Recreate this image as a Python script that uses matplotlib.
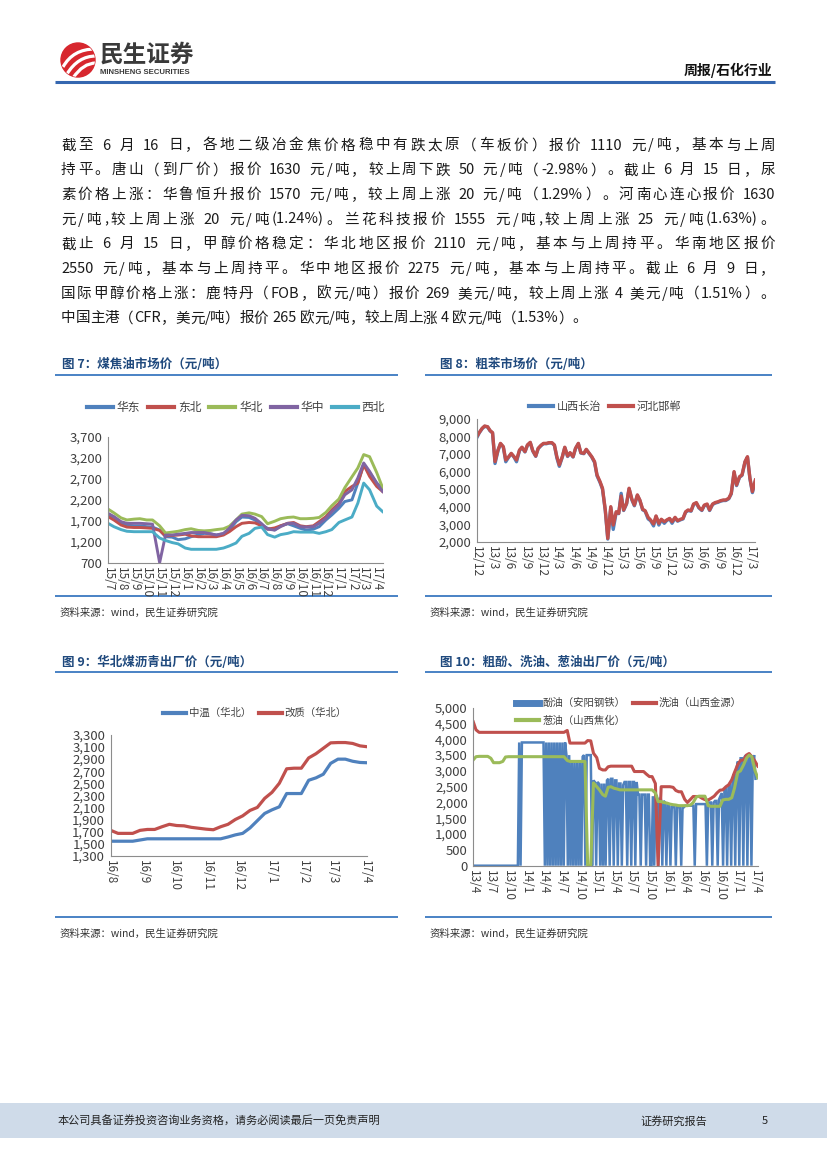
import re
import pandas as pd
import matplotlib
matplotlib.use('Agg')
import matplotlib.pyplot as plt
import matplotlib.dates as mdates
from matplotlib.lines import Line2D
from matplotlib.patches import Rectangle, Circle, PathPatch
from matplotlib.path import Path
from matplotlib.font_manager import FontProperties

plt.rcParams['font.family'] = ['Noto Sans CJK SC', 'DejaVu Sans']
plt.rcParams['axes.unicode_minus'] = False

# ---------------- data ----------------
body_lines = [
    '截至 6 月 16 日，各地二级冶金焦价格稳中有跌太原（车板价）报价 1110 元/吨，基本与上周',
    '持平。唐山（到厂价）报价 1630 元/吨，较上周下跌 50 元/吨（-2.98%）。截止 6 月 15 日，尿',
    '素价格上涨：华鲁恒升报价 1570 元/吨，较上周上涨 20 元/吨（1.29%）。河南心连心报价 1630',
    '元/吨,较上周上涨 20 元/吨(1.24%)。兰花科技报价 1555 元/吨,较上周上涨 25 元/吨(1.63%)。',
    '截止 6 月 15 日，甲醇价格稳定：华北地区报价 2110 元/吨，基本与上周持平。华南地区报价',
    '2550 元/吨，基本与上周持平。华中地区报价 2275 元/吨，基本与上周持平。截止 6 月 9 日，',
    '国际甲醇价格上涨：鹿特丹（FOB，欧元/吨）报价 269 美元/吨，较上周上涨 4 美元/吨（1.51%）。',
    '中国主港（CFR，美元/吨）报价 265 欧元/吨，较上周上涨 4 欧元/吨（1.53%）。',
]

# fig 7: coal tar, semi-monthly from 2015-07
tar_names = ['华东', '东北', '华北', '华中', '西北']
tar_huadong = [1840, 1790, 1660, 1600, 1580, 1580, 1560, 1550, 1480, 1320, 1310, 1250, 1270, 1320, 1360,
               1400, 1390, 1360, 1390, 1480, 1680, 1790, 1780, 1720, 1600, 1520, 1480, 1580, 1630, 1580,
               1520, 1480, 1500, 1560, 1720, 1840, 2000, 2160, 2200, 2600, 3040, 2850, 2600, 2480]
tar_dongbei = [1800, 1720, 1600, 1550, 1540, 1540, 1530, 1520, 1470, 1340, 1350, 1360, 1380, 1340, 1320,
               1320, 1320, 1320, 1360, 1440, 1560, 1640, 1660, 1650, 1580, 1500, 1530, 1580, 1640, 1660,
               1580, 1560, 1580, 1680, 1800, 1960, 2120, 2400, 2520, 2600, 3040, 2760, 2520, 2400]
tar_huabei = [1980, 1890, 1770, 1720, 1740, 1750, 1720, 1720, 1580, 1410, 1430, 1450, 1490, 1510, 1470,
              1460, 1470, 1490, 1510, 1570, 1720, 1860, 1890, 1860, 1800, 1630, 1690, 1750, 1780, 1790,
              1750, 1750, 1760, 1780, 1900, 2060, 2220, 2490, 2750, 2960, 3280, 3230, 2850, 2490]
tar_huazhong = [1880, 1800, 1680, 1640, 1640, 1640, 1630, 1620, 700, 1360, 1360, 1380, 1400, 1420, 1420,
                1420, 1390, 1360, 1400, 1520, 1720, 1830, 1820, 1760, 1630, 1500, 1480, 1560, 1640, 1640,
                1560, 1550, 1560, 1640, 1760, 1920, 2080, 2320, 2440, 2720, 3080, 2880, 2600, 2400]
tar_xibei = [1640, 1560, 1490, 1450, 1440, 1440, 1440, 1440, 1290, 1230, 1180, 1150, 1050, 1020, 1020,
             1020, 1020, 1020, 1050, 1100, 1170, 1330, 1400, 1520, 1550, 1370, 1310, 1370, 1400, 1440,
             1430, 1430, 1430, 1400, 1440, 1490, 1660, 1720, 1790, 2120, 2600, 2440, 2050, 1920]
tar_ticks = ['15/7', '15/8', '15/9', '15/10', '15/11', '15/12', '16/1', '16/2', '16/3', '16/4', '16/5',
             '16/6', '16/7', '16/8', '16/9', '16/10', '16/11', '16/12', '17/1', '17/2', '17/3', '17/4']
tar_yticks = [700, 1200, 1700, 2200, 2700, 3200, 3700]

# fig 8: crude benzene, semi-monthly from 2012-12
benz_names = ['山西长治', '河北邯郸']
benz_changzhi = [7920, 8200, 8450, 8580, 8540, 8320, 8200, 6460, 7200, 7580,
                 7400, 6560, 6830, 7020, 6820, 6560, 7200, 7370, 7120, 7500,
                 7650, 7180, 6870, 7310, 7480, 7590, 7590, 7630, 7630, 7500,
                 6780, 6300, 6830, 7370, 6860, 7060, 6830, 7310, 7590, 7060,
                 7020, 7250, 7020, 6830, 6520, 5760, 5380, 5000, 3760, 2150,
                 3950, 2700, 3680, 3600, 4760, 3780, 4160, 5020, 4380, 4050,
                 4640, 4350, 3820, 3740, 3300, 3200, 2900, 3440, 2950, 3250,
                 3050, 3210, 3300, 3050, 3360, 3170, 3250, 3300, 3680, 3780,
                 3740, 4120, 4200, 3930, 3780, 4060, 4100, 3780, 4120, 4200,
                 4250, 4310, 4350, 4350, 4450, 4730, 5950, 5200, 5680, 5780,
                 6540, 6820, 5580, 4800, 5480]
benz_handan = [7990, 8220, 8470, 8600, 8560, 8340, 8220, 6570, 7230, 7610,
               7420, 6660, 6850, 7040, 6850, 6660, 7230, 7390, 7140, 7520,
               7670, 7200, 6890, 7330, 7500, 7610, 7610, 7650, 7650, 7520,
               6850, 6380, 6850, 7390, 6890, 7080, 6850, 7330, 7610, 7080,
               7040, 7270, 7040, 6850, 6570, 5810, 5430, 5050, 3810, 2190,
               4000, 2950, 3710, 3620, 4610, 3810, 4190, 5050, 4420, 4090,
               4670, 4380, 3850, 3770, 3390, 3240, 3010, 3470, 3050, 3280,
               3140, 3240, 3330, 3140, 3390, 3200, 3280, 3330, 3710, 3810,
               3770, 4150, 4230, 3960, 3810, 4090, 4150, 3810, 4150, 4230,
               4280, 4340, 4380, 4380, 4480, 4760, 6000, 5240, 5710, 5810,
               6570, 6850, 5620, 4860, 5520]
benz_ticks = ['12/12', '13/3', '13/6', '13/9', '13/12', '14/3', '14/6', '14/9', '14/12',
              '15/3', '15/6', '15/9', '15/12', '16/3', '16/6', '16/9', '16/12', '17/3']
benz_yticks = [2000, 3000, 4000, 5000, 6000, 7000, 8000, 9000]

# fig 9: pitch, weekly from 2016-08-01
pitch_names = ['中温（华北）', '改质（华北）']
pitch_zhongwen = [1540, 1540, 1540, 1540, 1560, 1580, 1580, 1580, 1580, 1580,
                  1580, 1580, 1580, 1580, 1580, 1580, 1610, 1645, 1670, 1760,
                  1880, 2000, 2060, 2110, 2330, 2330, 2330, 2550, 2590, 2650,
                  2830, 2900, 2900, 2865, 2845, 2840]
pitch_gaizhi = [1720, 1670, 1670, 1670, 1720, 1735, 1735, 1780, 1820, 1800,
                1795, 1770, 1755, 1740, 1730, 1780, 1820, 1900, 1960, 2050,
                2100, 2250, 2350, 2500, 2740, 2750, 2750, 2920, 2990, 3080,
                3170, 3175, 3175, 3160, 3120, 3105]
pitch_ticks = ['16/8', '16/9', '16/10', '16/11', '16/12', '17/1', '17/2', '17/3', '17/4']
pitch_yticks = [1300, 1500, 1700, 1900, 2100, 2300, 2500, 2700, 2900, 3100, 3300]

# fig 10: phenol oil weekly from 2013-04-01, wash oil / anthracene oil semi-monthly
oil_names = ['酚油（安阳钢铁）', '洗油（山西金源）', '葱油（山西焦化）']
oil_phenol = [0, 0, 0, 0, 0, 0, 0, 0, 0, 0, 0, 0, 0, 0, 0, 0, 0,
              0, 0, 0, 0, 0, 0, 0, 0, 0, 0, 0, 0, 0, 0, 0, 0, 0,
              3900, 0, 3900,
              3900, 3900, 3900, 3900, 3900, 3900, 3900, 3900, 3900, 3900, 3900, 3900, 3900, 3900, 3900, 3900,
              0, 3900, 0, 3900, 0, 3900, 0, 3900, 0, 3900, 0, 3900, 0, 3900, 0, 3900,
              3500, 0, 3500, 0, 3300, 0, 3300, 0, 3300, 0, 3300, 0, 3450, 3500, 0, 3500, 3500, 3500, 3500, 0,
              2700, 2650, 0, 2650, 2600, 0, 2600, 0, 2600, 0,
              2700, 2750, 0, 2750, 2750, 0, 2700, 2700, 0, 2600,
              2600, 0, 2550, 2650, 2650, 0, 2650, 2650, 0, 2650,
              2650, 0, 2650, 2250, 2250, 0, 2250, 2250, 2250, 0,
              2250, 2250, 0, 0, 2200, 0, 2250, 2200, 0, 2150,
              2100, 0, 2050, 2000, 0, 1950, 1900, 0, 1850, 1850,
              1850, 0, 1850, 1850, 1850, 0, 1850, 1850, 1900, 1900,
              1900, 1900, 1900, 1900, 1900, 0, 1950, 1950, 1950, 1950,
              1950, 1950, 1950, 1950, 0, 2000, 2000, 2000, 0, 2000,
              2050, 2050, 0, 2100, 2200, 2300, 0, 2400, 2450, 0,
              2550, 2600, 0, 2700, 2900, 0, 3100, 3300, 0, 3400,
              3400, 0, 3450, 3500, 0, 3500, 3450, 0, 3300, 3500,
              2750]
oil_wash = [4550, 4300,
            4220, 4220, 4220, 4220, 4220, 4220, 4220, 4220, 4220, 4220, 4220, 4220, 4220, 4220, 4220,
            4220, 4220, 4220, 4220, 4220, 4220, 4220, 4220, 4220, 4220, 4220, 4220, 4220, 4220, 4220,
            4280, 3880, 3880, 3880, 3880, 3880, 3880, 3960, 3950, 3560, 3420, 3080, 3030, 3030, 3130,
            3150, 3150, 3150, 3150, 3150, 3150, 3150, 3150, 2980, 2980, 2980, 2980, 2900, 2820, 2820,
            2600, 0, 2500, 2500, 2500, 2500, 2480, 2380, 2340, 2340, 2100, 2000, 2100, 2190, 2190, 2190,
            2130, 2090, 2080, 2130, 2200, 2300, 2390, 2400, 2500, 2560, 2720, 2950, 3200, 3330, 3350,
            3500, 3550, 3450, 3300, 3150]
oil_anthra = [3350, 3450, 3460, 3460, 3460, 3460, 3400, 3260, 3260, 3260, 3300, 3440,
              3450, 3450, 3450, 3450, 3450, 3450, 3450, 3450, 3450, 3450,
              3450, 3450, 3450, 3450, 3450, 3450, 3450, 3450, 3450, 3450,
              3330, 3300, 3300, 3300, 3300, 3300, 3300, 0, 0, 2620, 2500, 2400, 2250, 2200,
              2480, 2500, 2450, 2430, 2400, 2400, 2400, 2400, 2400, 2400, 2400, 2400, 2400, 2400,
              2400, 2400, 2300, 2030, 2030, 2000, 1980, 1950, 1930, 1920, 1900, 1900, 1900, 1900,
              1920, 2000, 2180, 2200, 2200, 2200, 1900, 1880, 1880, 1880, 1880, 2080, 2100, 2100,
              2150, 2450, 2950, 3000, 3200, 3400, 3500, 3450, 3000, 2780]
oil_ticks = ['13/4', '13/7', '13/10', '14/1', '14/4', '14/7', '14/10', '15/1', '15/4', '15/7',
             '15/10', '16/1', '16/4', '16/7', '16/10', '17/1', '17/4']
oil_yticks = [0, 500, 1000, 1500, 2000, 2500, 3000, 3500, 4000, 4500, 5000]

BLUE, RED, GREEN, PURPLE, CYAN = '#4f81bd', '#c0504d', '#9bbb59', '#8064a2', '#4bacc6'
TITLE_C = '#1f497d'
RULE_C = '#3a78c0'

# ---------------- page ----------------
W, H = 827, 1169
fig = plt.figure(figsize=(W / 100, H / 100), dpi=100)
bg = fig.add_axes([0, 0, 1, 1])
bg.set_xlim(0, W)
bg.set_ylim(H, 0)
bg.axis('off')

# header
logo = Circle((78, 60), 17, color='#d7272e')
bg.add_patch(logo)
for p0, p1, p2 in [((63, 67), (73, 49), (95, 49)), ((67, 74), (78, 56), (96, 56)), ((73, 78), (83, 63), (96, 63))]:
    sw = PathPatch(Path([p0, p1, p2], [Path.MOVETO, Path.CURVE3, Path.CURVE3]),
                   fc='none', ec='white', lw=2.3)
    bg.add_patch(sw)
    sw.set_clip_path(logo)
bg.text(100, 55, '民生证券', fontsize=17, weight='bold', color='#3a3a3a', va='center', ha='left')
bg.text(100, 72, 'MINSHENG SECURITIES', fontsize=5.6, weight='bold', color='#3a3a3a',
        va='center', ha='left', family=['Liberation Sans', 'DejaVu Sans'])
bg.text(772, 70, '周报/石化行业', fontsize=10, weight='bold', color='#111111', va='center', ha='right')
bg.plot([55, 775], [82, 82], color='#3567b0', lw=2.2, solid_capstyle='butt')

# body paragraph, justified line by line
body_fp = FontProperties(family=['Noto Sans CJK SC', 'DejaVu Sans'], size=10.5)
em = 10.5 * 100 / 72
renderer = fig.canvas.get_renderer()


def token_width(tok):
    if tok == ' ':
        return 0.25 * em
    if ord(tok[0]) > 0x2e80:
        return em
    return renderer.get_text_width_height_descent(tok, body_fp, ismath=False)[0]


for i, line in enumerate(body_lines):
    toks = re.findall(r'[\x21-\x7e]+| |.', line)
    widths = [token_width(t) for t in toks]
    if i < len(body_lines) - 1:
        gap = (775 - 61 - sum(widths)) / (len(toks) - 1)
    else:
        gap = 0.0
    x = 61
    yb = 149.5 + 24.7 * i
    for t, w in zip(toks, widths):
        if t != ' ':
            if ord(t[0]) > 0x2e80:
                bg.text(x + w / 2, yb, t, fontproperties=body_fp, ha='center', va='baseline', color='#1a1a1a')
            else:
                bg.text(x, yb, t, fontproperties=body_fp, ha='left', va='baseline', color='#1a1a1a')
        x += w + gap

# chart frames: titles, rules, sources
for x0, x1, tx, ty, title, y_bottom in [
        (55, 398, 62, 365, '图 7：煤焦油市场价（元/吨）', 596),
        (425, 772, 440, 365, '图 8：粗苯市场价（元/吨）', 596),
        (55, 398, 62, 662, '图 9：华北煤沥青出厂价（元/吨）', 917),
        (425, 772, 440, 662, '图 10：粗酚、洗油、葱油出厂价（元/吨）', 917)]:
    bg.text(tx, ty, title, fontsize=9, weight='bold', color=TITLE_C, va='center', ha='left')
    bg.plot([x0, x1], [ty + 9.5, ty + 9.5], color=RULE_C, lw=1.3, solid_capstyle='butt')
    bg.plot([x0, x1], [y_bottom, y_bottom], color=RULE_C, lw=1.3, solid_capstyle='butt')
    bg.text(x0 + 5, y_bottom + 16.5, '资料来源：wind，民生证券研究院', fontsize=7.5,
            color='#333333', va='center', ha='left')

# footer
bg.add_patch(Rectangle((0, 1103), W, 35, color='#cfdbe9', lw=0))
bg.text(58, 1121, '本公司具备证券投资咨询业务资格，请务必阅读最后一页免责声明', fontsize=8,
        color='#222222', va='center', ha='left')
bg.text(640, 1121, '证券研究报告', fontsize=8, color='#222222', va='center', ha='left')
bg.text(762, 1121, '5', fontsize=8, color='#222222', va='center', ha='left')


# ---------------- charts ----------------
def make_axes(x0, y0, x1, y1):
    return fig.add_axes([x0 / W, 1 - y1 / H, (x1 - x0) / W, (y1 - y0) / H])


def month_start(lab):
    yy, mm = lab.split('/')
    return pd.Timestamp(int('20' + yy), int(mm), 1)


def style(ax, yticks, xlabels, xlim):
    ax.set_ylim(yticks[0], yticks[-1])
    ax.set_yticks(yticks)
    ax.set_yticklabels([f'{v:,}' for v in yticks])
    ax.set_xlim(mdates.date2num(pd.Timestamp(xlim[0])), mdates.date2num(pd.Timestamp(xlim[1])))
    ax.set_xticks(mdates.date2num([month_start(s) for s in xlabels]))
    ax.set_xticklabels(xlabels, rotation=270, ha='center', va='top')
    for s in ['top', 'right']:
        ax.spines[s].set_visible(False)
    for s in ['left', 'bottom']:
        ax.spines[s].set_color('#8c8c8c')
        ax.spines[s].set_linewidth(0.8)
    ax.tick_params(length=0, colors='#404040')
    ax.tick_params(axis='y', labelsize=9.5, pad=4)
    ax.tick_params(axis='x', labelsize=8.5, pad=3)
    ax.patch.set_alpha(0)


def legend(ax, handles, labels, cx, cy, ncol, size, **kw):
    ax.legend(handles, labels, loc='center', bbox_to_anchor=(cx / W, 1 - cy / H),
              bbox_transform=fig.transFigure, ncol=ncol, frameon=False, fontsize=size,
              handlelength=2.2, handletextpad=0.3, columnspacing=0.7, borderpad=0,
              borderaxespad=0, labelcolor='#404040', **kw)


# fig 7
ax7 = make_axes(108, 437, 382.6, 562.7)
d7 = pd.date_range('2015-07-01', periods=len(tar_huadong), freq='SMS')
tar_series = [tar_huadong, tar_dongbei, tar_huabei, tar_huazhong, tar_xibei]
tar_colors = [BLUE, RED, GREEN, PURPLE, CYAN]
for vals, c in zip(tar_series, tar_colors):
    ax7.plot(d7, vals, color=c, lw=2.1, solid_joinstyle='round')
style(ax7, tar_yticks, tar_ticks, ('2015-07-01', '2017-04-15'))
legend(ax7, [Line2D([], [], color=c, lw=3) for c in tar_colors], tar_names, 236, 408, 5, 8.5)

# fig 8
ax8 = make_axes(476.7, 419, 755.4, 541.7)
d8 = pd.date_range('2012-12-01', periods=len(benz_handan), freq='SMS')
ax8.plot(d8, benz_changzhi, color=BLUE, lw=2.4, solid_joinstyle='round')
ax8.plot(d8, benz_handan, color=RED, lw=2.4, solid_joinstyle='round')
style(ax8, benz_yticks, benz_ticks, ('2012-12-01', '2017-04-01'))
legend(ax8, [Line2D([], [], color=BLUE, lw=3), Line2D([], [], color=RED, lw=3)],
       benz_names, 605, 407, 2, 8)

# fig 9
ax9 = make_axes(110.7, 735, 367.3, 855.7)
d9 = pd.date_range('2016-08-01', periods=len(pitch_zhongwen), freq='7D')
ax9.plot(d9, pitch_zhongwen, color=BLUE, lw=2.3, solid_joinstyle='round')
ax9.plot(d9, pitch_gaizhi, color=RED, lw=2.3, solid_joinstyle='round')
style(ax9, pitch_yticks, pitch_ticks, ('2016-08-01', '2017-04-03'))
legend(ax9, [Line2D([], [], color=BLUE, lw=3), Line2D([], [], color=RED, lw=3)],
       pitch_names, 255, 713, 2, 7.5)

# fig 10
ax10 = make_axes(473.3, 707.7, 757.8, 865.7)
d10w = pd.date_range('2013-04-01', periods=len(oil_phenol), freq='7D')
d10s = pd.date_range('2013-04-01', periods=len(oil_wash), freq='SMS')
ax10.plot(d10w, oil_phenol, color=BLUE, lw=1.8, solid_joinstyle='miter')
ax10.plot(d10s, oil_wash, color=RED, lw=2.2, solid_joinstyle='round')
ax10.plot(d10s, oil_anthra, color=GREEN, lw=2.2, solid_joinstyle='round')
style(ax10, oil_yticks, oil_ticks, ('2013-04-01', '2017-04-15'))
legend(ax10, [Line2D([], [], color=BLUE, lw=5), Line2D([], [], color=GREEN, lw=3),
              Line2D([], [], color=RED, lw=3)],
       [oil_names[0], oil_names[2], oil_names[1]], 629, 712, 2, 7.5, labelspacing=0.7)

fig.savefig('out.png', dpi=100)
